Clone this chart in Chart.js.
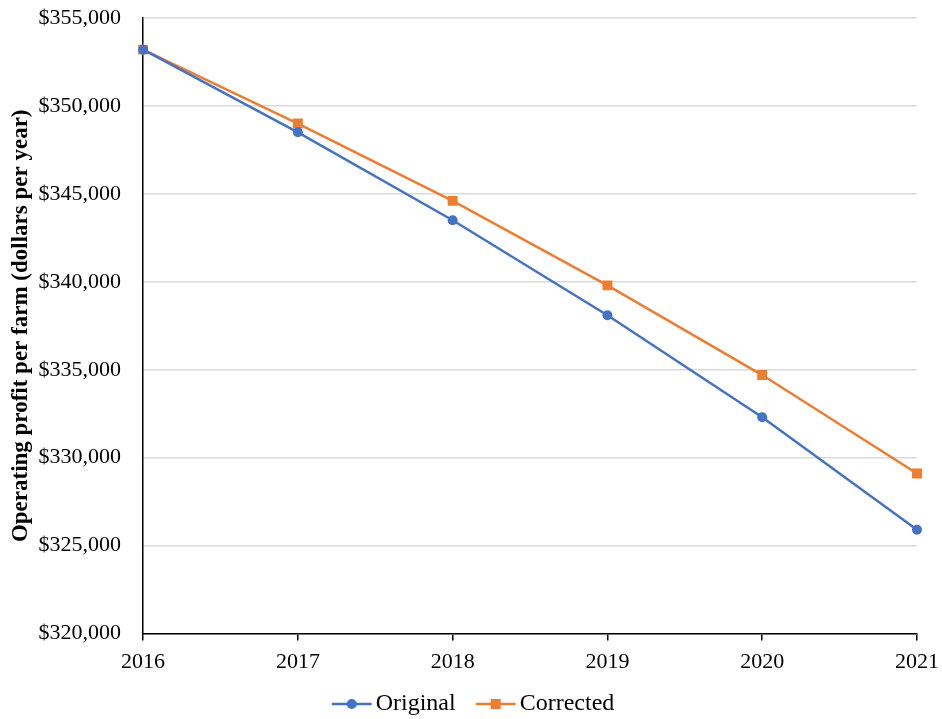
<!DOCTYPE html>
<html>
<head>
<meta charset="utf-8">
<script src="https://cdn.jsdelivr.net/npm/chart.js@4.4.1/dist/chart.umd.min.js"></script>
<style>
  html, body { margin: 0; padding: 0; background: #ffffff; }
  #wrap { width: 942px; height: 719px; }
</style>
</head>
<body>
<div id="wrap"><canvas id="chart" width="942" height="719"></canvas></div>
<script>
// Years on the horizontal axis
const years = ['2016', '2017', '2018', '2019', '2020', '2021'];
// Operating profit per farm, dollars per year
const originalProfit = [353200, 348500, 343500, 338100, 332300, 325900];
const correctedProfit = [353200, 349000, 344600, 339800, 334700, 329100];
const seriesNames = ['Original', 'Corrected'];

const BLUE = '#4472C4';
const ORANGE = '#ED7D31';
const FONT = '"Liberation Serif", "Times New Roman", serif';

// Legend swatch: a 40px line with the series marker in its middle.
// The canvas is wider than the legend box; the line is drawn towards its
// right so each entry has a blank lead-in and the label follows closely.
function swatch(color, shape) {
  const c = document.createElement('canvas');
  c.width = 80; c.height = 12;
  const g = c.getContext('2d');
  g.strokeStyle = color; g.lineWidth = 2.5;
  g.beginPath(); g.moveTo(34, 6); g.lineTo(74, 6); g.stroke();
  g.fillStyle = color;
  if (shape === 'circle') {
    g.beginPath(); g.arc(54, 6, 5, 0, Math.PI * 2); g.fill();
  } else {
    g.fillRect(49, 1, 10, 10);
  }
  return c;
}

// Nudge the legend row left so the visible entries (not the blank lead-in) are centred
const legendNudge = {
  id: 'legendNudge',
  afterLayout(chart) {
    if (chart.legend) {
      chart.legend.left -= 10;
      chart.legend.right -= 10;
    }
  }
};

new Chart(document.getElementById('chart'), {
  type: 'line',
  data: {
    labels: years,
    datasets: [
      {
        label: seriesNames[0],
        data: originalProfit,
        borderColor: BLUE,
        backgroundColor: BLUE,
        borderWidth: 2.5,
        pointStyle: 'circle',
        pointRadius: 5,
        pointBorderWidth: 0,
        tension: 0
      },
      {
        label: seriesNames[1],
        data: correctedProfit,
        borderColor: ORANGE,
        backgroundColor: ORANGE,
        borderWidth: 2.5,
        pointStyle: 'rect',
        pointRadius: 7,
        pointBorderWidth: 0,
        tension: 0
      }
    ]
  },
  plugins: [legendNudge],
  options: {
    responsive: false,
    animation: false,
    layout: { autoPadding: false, padding: { left: 7, right: 3, top: 18, bottom: -7 } },
    scales: {
      x: {
        offset: false,
        grid: {
          display: true,
          drawOnChartArea: false,
          drawTicks: true,
          tickLength: 7,
          color: '#000000',
          lineWidth: 1.5
        },
        border: { display: true, color: '#000000', width: 1.5 },
        ticks: { color: '#000000', font: { family: FONT, size: 22 }, padding: 8, maxRotation: 0 },
        afterFit: scale => {
          scale.height += 9;
          scale.paddingRight = 25;
        }
      },
      y: {
        min: 320000,
        max: 355000,
        grid: {
          color: '#d9d9d9',
          lineWidth: 1.5,
          drawTicks: true,
          tickLength: 18,
          tickColor: 'rgba(0,0,0,0)'
        },
        border: { display: true, color: '#000000', width: 1.5 },
        ticks: {
          stepSize: 5000,
          color: '#000000',
          padding: 4,
          font: { family: FONT, size: 22 },
          callback: v => '$' + v.toLocaleString('en-US')
        },
        title: {
          display: true,
          text: 'Operating profit per farm (dollars per year)',
          color: '#000000',
          font: { family: FONT, size: 23, weight: 'bold' },
          padding: { top: 0, bottom: 0 }
        }
      }
    },
    plugins: {
      legend: {
        position: 'bottom',
        labels: {
          color: '#000000',
          font: { family: FONT, size: 24 },
          usePointStyle: true,
          pointStyleWidth: 52,
          boxHeight: 12,
          padding: 0,
          generateLabels: chart => chart.data.datasets.map((ds, i) => ({
            text: ds.label,
            pointStyle: swatch(ds.borderColor, i === 0 ? 'circle' : 'rect'),
            fillStyle: ds.borderColor,
            strokeStyle: ds.borderColor,
            lineWidth: 0,
            hidden: false,
            datasetIndex: i,
            fontColor: '#000000'
          }))
        }
      },
      tooltip: { enabled: false }
    }
  }
});
</script>
</body>
</html>
